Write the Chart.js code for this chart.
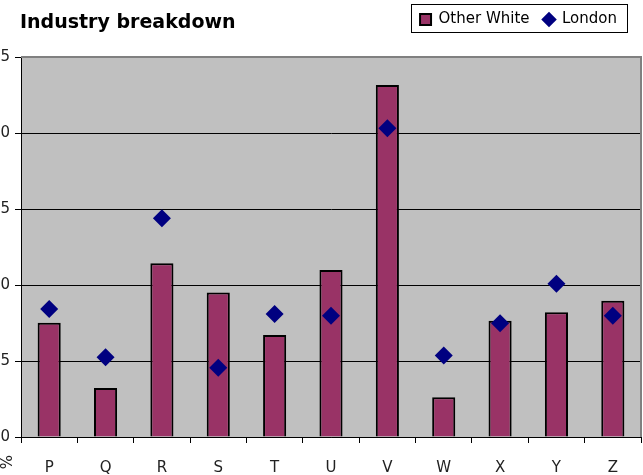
<!DOCTYPE html>
<html>
<head>
<meta charset="utf-8">
<script src="https://cdn.jsdelivr.net/npm/chart.js@4/dist/chart.umd.min.js"></script>
<style>
  body { margin: 0; background: #fff; }
  #wrap { width: 643px; height: 475px; }
</style>
</head>
<body>
<div id="wrap"><canvas id="industryChart" width="643" height="475"></canvas></div>
<script>
// industry sections
const categories = ['P', 'Q', 'R', 'S', 'T', 'U', 'V', 'W', 'X', 'Y', 'Z'];
// % share
const otherWhite = [7.52, 3.22, 11.43, 9.5, 6.71, 10.99, 23.16, 2.61, 7.65, 8.2, 8.97];
const london = [8.42, 5.24, 14.39, 4.56, 8.09, 7.98, 20.31, 5.37, 7.48, 10.09, 7.98];
const yTicks = [0, 5, 10, 15, 20, 25];

const FONT = 'DejaVu Sans';

// grey plot area, grey frame, title, legend box and the cut-off "%" label
const decor = {
    id: 'decor',
    afterLayout(chart) {
        // legend sits a bit in from the right edge, like the original
        chart.legend.right -= 10;
    },
    beforeDraw(chart) {
        const { ctx, chartArea: a } = chart;
        ctx.save();
        ctx.fillStyle = '#C0C0C0';
        ctx.fillRect(a.left, a.top, a.right - a.left, a.bottom - a.top);
        ctx.restore();
    },
    afterDatasetsDraw(chart) {
        const { ctx, chartArea: a } = chart;
        ctx.save();
        ctx.strokeStyle = '#808080';
        ctx.lineWidth = 2;
        ctx.beginPath();
        ctx.moveTo(a.left, a.top);
        ctx.lineTo(a.right, a.top);
        ctx.lineTo(a.right, a.bottom);
        ctx.stroke();
        ctx.restore();
    },
    afterDraw(chart) {
        const ctx = chart.ctx;
        ctx.save();
        ctx.fillStyle = '#000';
        ctx.font = `bold 19px "${FONT}"`;
        ctx.textBaseline = 'middle';
        ctx.fillText('Industry breakdown', 20, 23);

        const boxes = chart.legend.legendHitBoxes;
        if (boxes && boxes.length) {
            const first = boxes[0], last = boxes[boxes.length - 1];
            ctx.strokeStyle = '#000';
            ctx.lineWidth = 1;
            ctx.strokeRect(Math.round(first.left) - 8.5, 4.5,
                Math.round(last.left + last.width - first.left) + 19, 28);
        }

        ctx.translate(8, 462);
        ctx.rotate(-Math.PI / 2);
        ctx.font = `15px "${FONT}"`;
        ctx.textAlign = 'center';
        ctx.fillStyle = '#222';
        ctx.fillText('%', 0, 0);
        ctx.restore();
    }
};

new Chart(document.getElementById('industryChart'), {
    type: 'bar',
    data: {
        labels: categories,
        datasets: [{
            label: 'Other White',
            data: otherWhite,
            backgroundColor: '#993366',
            borderColor: '#000',
            borderWidth: 2,
            barPercentage: 0.41,
            categoryPercentage: 1,
            pointStyle: 'rect',
            order: 1
        }, {
            type: 'line',
            label: 'London',
            data: london,
            showLine: false,
            pointStyle: 'rectRot',
            pointRadius: 9,
            pointHoverRadius: 9,
            pointBorderWidth: 0,
            borderWidth: 0,
            backgroundColor: '#000080',
            borderColor: '#000080',
            order: 0
        }]
    },
    options: {
        responsive: false,
        animation: false,
        layout: { autoPadding: false, padding: { top: -2, right: 2, left: 0, bottom: 0 } },
        plugins: {
            legend: {
                position: 'top',
                align: 'end',
                labels: {
                    usePointStyle: true,
                    boxWidth: 11,
                    boxHeight: 11,
                    padding: 14,
                    color: '#000',
                    font: { family: FONT, size: 15 },
                    sort: (a, b) => a.datasetIndex - b.datasetIndex
                }
            },
            // blank spacer between the legend row and the plot
            subtitle: {
                display: true,
                text: '',
                weight: 500,
                font: { size: 10 },
                padding: { top: 4, bottom: 4 }
            },
            tooltip: { enabled: false }
        },
        scales: {
            x: {
                offset: true,
                grid: {
                    offset: true,
                    drawOnChartArea: false,
                    tickLength: 6,
                    color: '#000'
                },
                border: { color: '#000', width: 1 },
                ticks: {
                    color: '#222',
                    padding: 16,
                    font: { family: FONT, size: 15 }
                },
                afterFit(scale) { scale.height = 38; }
            },
            y: {
                min: 0,
                max: 25,
                afterBuildTicks(scale) { scale.ticks = yTicks.map(v => ({ value: v })); },
                grid: {
                    color: ctx => (ctx.tick && ctx.tick.value === 25 ? '#808080' : '#000'),
                    tickColor: '#000',
                    tickLength: 6
                },
                border: { color: '#000', width: 1 },
                ticks: {
                    color: '#222',
                    padding: 5,
                    font: { family: FONT, size: 15 }
                },
                afterFit(scale) { scale.width = 21; }
            }
        }
    },
    plugins: [decor]
});
</script>
</body>
</html>
